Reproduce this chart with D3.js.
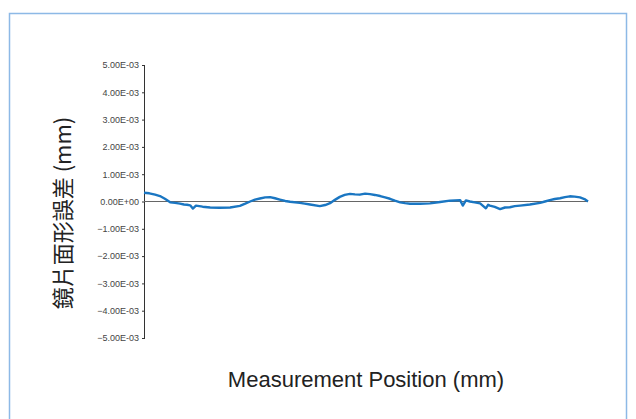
<!DOCTYPE html>
<html>
<head>
<meta charset="utf-8">
<script src="https://cdnjs.cloudflare.com/ajax/libs/d3/7.8.5/d3.min.js"></script>
<style>
  body { margin: 0; background: #fff; }
  svg { display: block; }
</style>
</head>
<body>
<script>
var w = 636, h = 419;

// measurement position (mm) and surface error (x1e-3 mm)
var position = [0, 1.2, 2.5, 3.6, 4.7, 5.9, 7.0, 8.1, 9.0, 9.7, 10.4, 11.0, 11.7, 13.2, 14.9, 17.0, 19.4, 21.6,
    22.8, 23.9, 25.0, 26.1, 27.3, 28.4, 29.5, 30.6, 31.8, 32.9, 35.1, 36.2, 37.4, 39.6, 40.8, 41.9, 43.0,
    44.1, 45.2, 46.4, 47.5, 48.6, 49.8, 50.9, 52.0, 53.2, 54.3, 55.4, 56.5, 57.7, 58.8, 59.9, 62.2, 64.4,
    66.7, 68.9, 71.2, 71.8, 72.5, 73.4, 74.5, 75.7, 77.0, 77.5, 77.9, 79.0, 80.2, 81.3, 82.4, 83.5, 84.7,
    86.9, 89.2, 90.3, 91.4, 92.5, 93.7, 94.8, 95.9, 97.0, 98.2, 99.2, 100];
var error = [0.32, 0.30, 0.25, 0.20, 0.10, -0.03, -0.05, -0.08, -0.11, -0.12, -0.14, -0.26, -0.15, -0.19, -0.22, -0.23, -0.22, -0.16,
    -0.08, 0.0, 0.07, 0.11, 0.15, 0.16, 0.12, 0.07, 0.02, -0.01, -0.05, -0.08, -0.11, -0.17, -0.13, -0.06, 0.06,
    0.17, 0.24, 0.28, 0.26, 0.25, 0.29, 0.27, 0.24, 0.20, 0.15, 0.10, 0.03, -0.03, -0.06, -0.08, -0.08, -0.07,
    -0.02, 0.03, 0.05, -0.15, 0.04, 0.0, -0.03, -0.07, -0.25, -0.12, -0.15, -0.20, -0.28, -0.22, -0.21, -0.17, -0.15,
    -0.11, -0.05, 0.0, 0.05, 0.09, 0.12, 0.16, 0.19, 0.18, 0.15, 0.09, 0.0];
var yTicks = [-5, -4, -3, -2, -1, 0, 1, 2, 3, 4, 5];

var svg = d3.select("body")
    .append("svg")
    .attr("width", w)
    .attr("height", h);

// frame
svg.append("rect")
    .attr("x", 9.5)
    .attr("y", 13.5)
    .attr("width", 617)
    .attr("height", 420)
    .style("fill", "none")
    .style("stroke", "#8db9e6")
    .style("stroke-width", 1.5);

var xScale = d3.scaleLinear()
    .domain([0, 100])
    .range([144, 588]);

var yScale = d3.scaleLinear()
    .domain([-5, 5])
    .range([338, 65]);

function fmt(v) {
    if (v == 0) return "0.00E+00";
    return (v < 0 ? "\u2212" : "") + Math.abs(v).toFixed(2) + "E-03";
}

var yAxis = d3.axisLeft(yScale)
    .tickValues(yTicks)
    .tickSize(3)
    .tickSizeOuter(0)
    .tickFormat(fmt);

var gy = svg.append("g")
    .attr("transform", "translate(144,0)")
    .call(yAxis);
gy.select(".domain").style("stroke", "#333");
gy.selectAll(".tick line").style("stroke", "#333").attr("x2", -2).attr("x1", 1);
gy.selectAll(".tick text")
    .attr("x", -5)
    .style("font-family", "Liberation Sans, Arial, sans-serif")
    .style("font-size", "9px")
    .style("fill", "#444");

// zero line
svg.append("line")
    .attr("x1", xScale(0))
    .attr("x2", xScale(100))
    .attr("y1", yScale(0))
    .attr("y2", yScale(0))
    .style("stroke", "#666")
    .style("stroke-width", 1.2);

var line = d3.line()
    .x(function(d, i) { return xScale(position[i]); })
    .y(function(d) { return yScale(d); });

svg.append("path")
    .datum(error)
    .attr("d", line)
    .style("fill", "none")
    .style("stroke", "#1a76c2")
    .style("stroke-width", 2.4)
    .style("stroke-linejoin", "round");

svg.append("text")
    .text("Measurement Position (mm)")
    .attr("x", 366)
    .attr("y", 387)
    .attr("text-anchor", "middle")
    .style("font-family", "Liberation Sans, Arial, sans-serif")
    .style("font-size", "22px")
    .style("fill", "#222");

svg.append("text")
    .text("鏡片面形誤差 (mm)")
    .attr("transform", "translate(71,213) rotate(-90)")
    .attr("text-anchor", "middle")
    .style("font-family", "Noto Sans CJK TC, sans-serif")
    .style("font-size", "22px")
    .style("fill", "#222");
</script>
</body>
</html>
